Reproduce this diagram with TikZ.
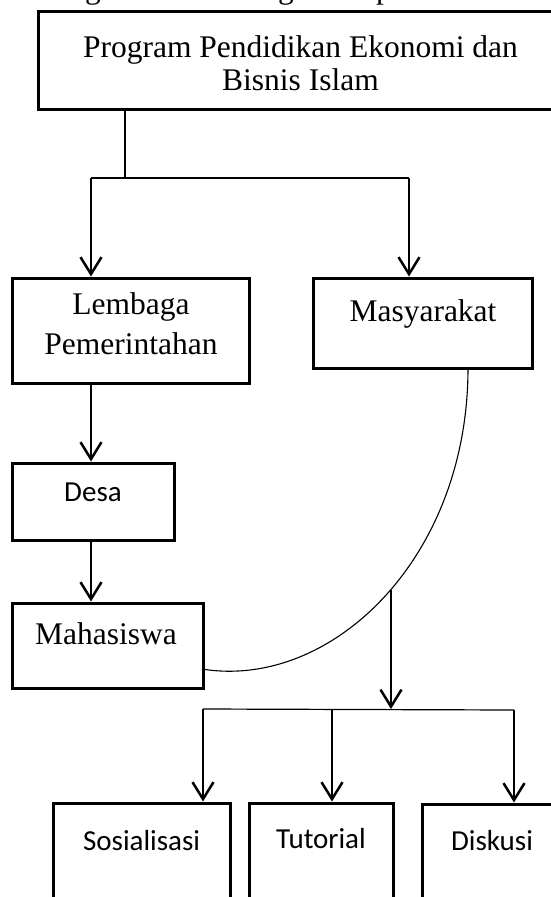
\documentclass[tikz,border=0pt]{standalone}
\usepackage{fontspec}
\setmainfont{Liberation Serif}
\newfontfamily\calib{Carlito}
\usetikzlibrary{arrows.meta}
\begin{document}
\begin{tikzpicture}[x=1pt,y=-1pt,
  box/.style={draw, line width=3pt, inner sep=0pt},
  serif/.style={font=\fontsize{31.5}{40}\selectfont, anchor=base, inner sep=0pt},
  sans/.style={font=\calib\fontsize{29}{35}\selectfont, anchor=base, inner sep=0pt},
  arr/.style={line width=2.5pt, -{Straight Barb[length=17pt,width=21pt]}},
  thinline/.style={line width=1.2pt}]
\useasboundingbox (0,0) rectangle (550,897);
% cut-off text line above
\node[serif] (frag1) at (93,-2) {g};
\node[serif] (frag2) at (286,-2) {g};
\node[serif] (frag3) at (384,-2) {p};
% boxes
\node[box, minimum width=525pt, minimum height=98pt] (prog) at (300.5,60) {};
\node[box, minimum width=237pt, minimum height=105pt] (lemb) at (130.5,330.5) {};
\node[box, minimum width=219pt, minimum height=90pt] (masy) at (422.5,323) {};
\node[box, minimum width=162pt, minimum height=77pt] (desa) at (93,501.5) {};
\node[box, minimum width=191pt, minimum height=85pt] (maha) at (107.5,645.5) {};
\node[box, minimum width=177pt, minimum height=127pt] (sosi) at (141.5,866.5) {};
\node[box, minimum width=144pt, minimum height=127pt] (tuto) at (321,866.5) {};
\node[box, minimum width=140pt, minimum height=127pt] (disk) at (492,867.5) {};
% texts
\node[serif] (progA) at (300.5,57) {Program Pendidikan Ekonomi dan};
\node[serif] (progB) at (300.5,90) {Bisnis Islam};
\node[serif] (lembA) at (131,314) {Lembaga};
\node[serif] (lembB) at (131,354) {Pemerintahan};
\node[serif] (masyT) at (423,321) {Masyarakat};
\node[sans] (desaT) at (93,501) {Desa};
\node[serif] (mahaT) at (106,644) {Mahasiswa};
\node[sans] (sosiT) at (141.6,850) {Sosialisasi};
\node[sans] (tutoT) at (321,848) {Tutorial};
\node[sans] (diskT) at (492,850) {Diskusi};
% connectors top
\coordinate (t0) at (125,178);
\coordinate (tl) at (91,178);
\coordinate (tr) at (409,178);
\draw[thinline] (prog.south -| t0) -- (t0);
\draw[thinline] (tl) -- (tr);
\draw[arr] (tl) -- (tl |- lemb.north);
\draw[arr] (tr) -- (tr |- masy.north);
\draw[arr] (lemb.south -| tl) -- (desa.north -| tl);
\draw[arr] (desa.south -| tl) -- (maha.north -| tl);
% curve
\coordinate (cs) at (468,368);
\coordinate (ce) at (202,669);
\draw[line width=1.1pt] (cs) .. controls (468,560) and (330,690) .. (ce);
% split
\coordinate (sp) at (391,590);
\coordinate (hb) at (391,709);
\coordinate (h1) at (203,709);
\coordinate (h2) at (332,709);
\coordinate (h3) at (514,710);
\draw[arr] (sp) -- (hb);
\draw[thinline] (h1) -- (h3);
\draw[arr] (h1) -- (h1 |- sosi.north);
\draw[arr] (h2) -- (h2 |- tuto.north);
\draw[arr] (h3) -- (h3 |- disk.north);
\end{tikzpicture}
\end{document}
